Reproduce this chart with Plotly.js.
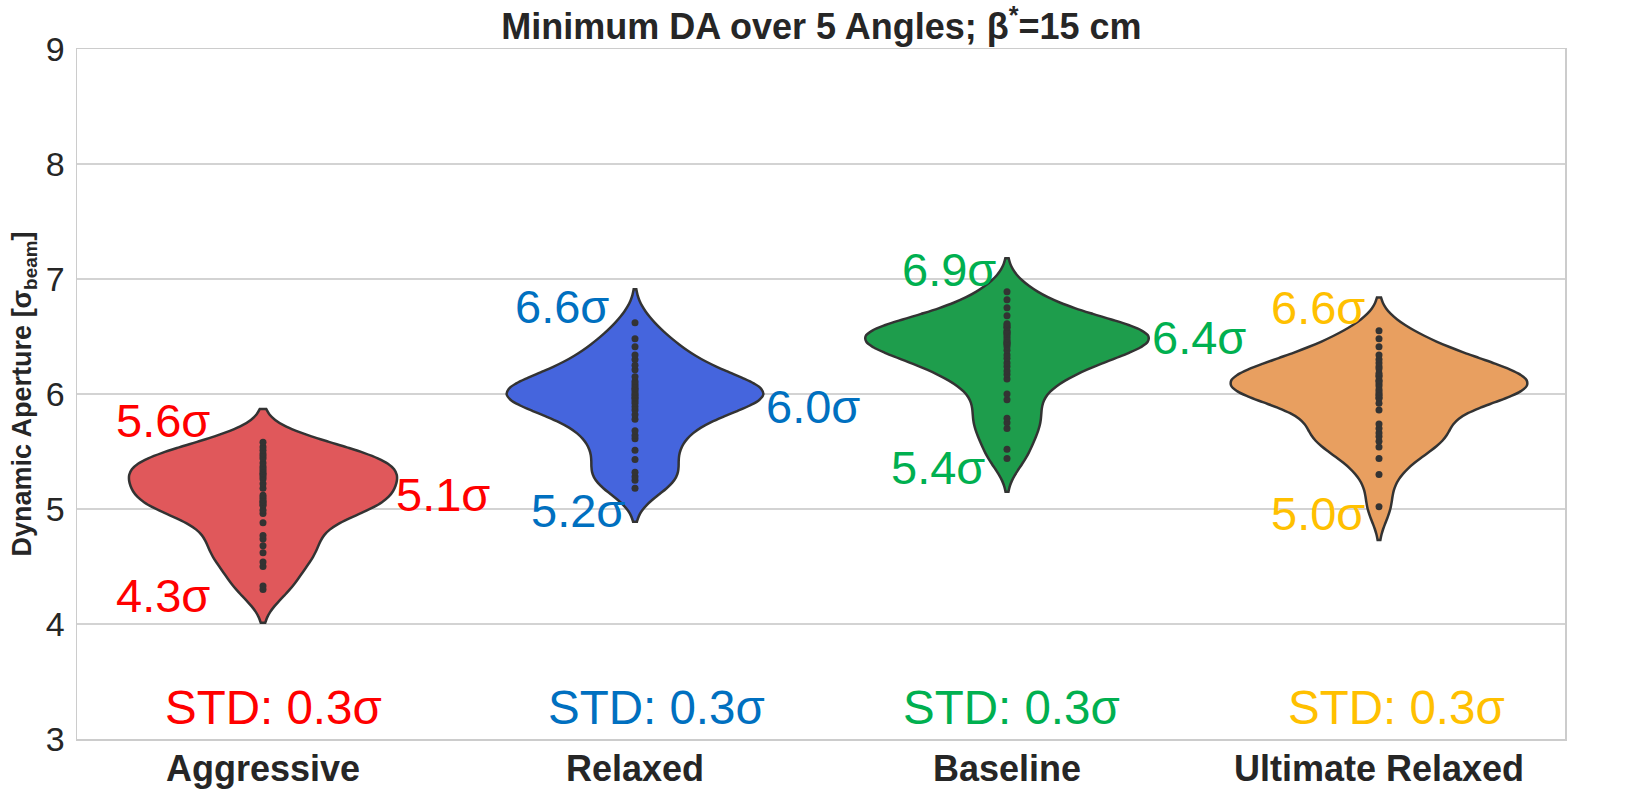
<!DOCTYPE html>
<html>
<head>
<meta charset="utf-8">
<script src="https://cdn.plot.ly/plotly-3.0.1.min.js"></script>
<style>html,body{margin:0;padding:0;background:#fff;}#chart{width:1643px;height:792px;}</style>
</head>
<body>
<div id="chart"></div>
<script>
// ---- data ----
const categories = ['Aggressive', 'Relaxed', 'Baseline', 'Ultimate Relaxed'];

const aggressive = [5.58, 5.54, 5.51, 5.48, 5.46, 5.44, 5.40, 5.37, 5.35, 5.33, 5.31, 5.30, 5.28, 5.26, 5.22,
                    5.18, 5.12, 5.10, 5.08, 5.06, 5.06, 5.04, 5.03, 4.99, 4.96, 4.88, 4.77, 4.74, 4.68, 4.62,
                    4.54, 4.50, 4.33, 4.30];
const relaxed = [6.62, 6.48, 6.41, 6.34, 6.30, 6.25, 6.21, 6.15, 6.11, 6.09, 6.07, 6.05, 6.04, 6.02, 6.00,
                 5.99, 5.97, 5.96, 5.94, 5.92, 5.89, 5.86, 5.82, 5.78, 5.68, 5.64, 5.61, 5.51, 5.43, 5.32,
                 5.28, 5.25, 5.18];
const baseline = [6.89, 6.82, 6.75, 6.68, 6.61, 6.60, 6.58, 6.58, 6.55, 6.54, 6.53, 6.52, 6.50, 6.48, 6.46,
                  6.45, 6.44, 6.43, 6.41, 6.38, 6.34, 6.31, 6.27, 6.24, 6.20, 6.17, 6.13, 6.00, 5.95, 5.79,
                  5.75, 5.70, 5.52, 5.44];
const ultimateRelaxed = [6.55, 6.48, 6.41, 6.34, 6.30, 6.27, 6.24, 6.22, 6.18, 6.16, 6.15, 6.12, 6.11, 6.09,
                         6.07, 6.04, 6.02, 6.00, 5.99, 5.97, 5.96, 5.92, 5.86, 5.74, 5.70, 5.66, 5.63, 5.59,
                         5.54, 5.44, 5.30, 5.02];

const maxLabels = [5.6, 6.6, 6.9, 6.6];
const medianLabels = [5.1, 6.0, 6.4, 6.0];
const minLabels = [4.3, 5.2, 5.4, 5.0];
const stdLabels = [0.3, 0.3, 0.3, 0.3];

const yTicks = [3, 4, 5, 6, 7, 8, 9];

// ---- styles ----
const series = [aggressive, relaxed, baseline, ultimateRelaxed];
const fills = ['#E0585B', '#4565DD', '#1E9D4C', '#E89F60'];
const textColors = ['#FF0000', '#0070C0', '#00B050', '#FFC000'];
const widths = [0.72, 0.69, 0.76, 0.795];

const FONT = '"Liberation Sans", Arial, Helvetica, sans-serif';

const traces = series.map((vals, i) => ({
  type: 'violin',
  x: vals.map(() => categories[i]),
  y: vals,
  name: categories[i],
  scalegroup: 'g' + i,
  scalemode: 'width',
  width: widths[i],
  bandwidth: 0.145,
  spanmode: 'soft',
  fillcolor: fills[i],
  opacity: 1,
  line: {color: '#333333', width: 2.5},
  points: 'all',
  pointpos: 0,
  jitter: 0,
  marker: {color: '#333333', size: 7, line: {width: 0}},
  box: {visible: false},
  meanline: {visible: false},
  showlegend: false,
  hoverinfo: 'skip'
}));

// label placement (x in category units, y in data units)
const pos = {
  max:    [[-0.269, 5.77], [0.805, 6.765], [1.844, 7.08], [2.836, 6.75]],
  median: [[0.483, 5.124], [1.478, 5.89], [2.516, 6.49], [3.540, 6.10]],
  min:    [[-0.269, 4.252], [0.847, 4.99], [1.815, 5.357], [2.836, 4.965]],
  std:    [[0.027, 3.27], [1.058, 3.27], [2.013, 3.27], [3.048, 3.27]]
};

const annotations = [];
const addAnn = (p, text, color, size) => annotations.push({
  x: p[0], y: p[1], xref: 'x', yref: 'y', text: text, showarrow: false,
  xanchor: 'center', yanchor: 'middle',
  font: {family: FONT, size: size, color: color}
});
for (let i = 0; i < categories.length; i++) {
  addAnn(pos.max[i], maxLabels[i].toFixed(1) + 'σ', textColors[i], 47);
  addAnn(pos.median[i], medianLabels[i].toFixed(1) + 'σ', textColors[i], 47);
  addAnn(pos.min[i], minLabels[i].toFixed(1) + 'σ', textColors[i], 47);
  addAnn(pos.std[i], 'STD: ' + stdLabels[i].toFixed(1) + 'σ', textColors[i], 47.5);
}

const layout = {
  width: 1643, height: 792,
  margin: {l: 77, r: 78, t: 49, b: 53, pad: 0},
  paper_bgcolor: '#ffffff', plot_bgcolor: '#ffffff',
  violinmode: 'overlay', violingap: 0,
  title: {
    text: '<b>Minimum DA over 5 Angles; β<sup>*</sup>=15 cm</b>',
    font: {family: FONT, size: 36, color: '#262626'},
    x: 0.5, xanchor: 'center', y: 0.967, yanchor: 'middle'
  },
  xaxis: {
    type: 'category', categoryorder: 'array', categoryarray: categories,
    range: [-0.5, 3.5],
    showgrid: false, zeroline: false,
    showline: true, mirror: true, linecolor: '#cccccc', linewidth: 1.5,
    ticks: '', tickfont: {family: FONT, size: 36, color: '#262626', weight: 'bold'},
    ticklabelstandoff: -3
  },
  yaxis: {
    range: [3, 9], tickvals: yTicks, ticktext: yTicks.map(String),
    showgrid: true, gridcolor: '#d3d3d3', gridwidth: 1.3, zeroline: false,
    showline: true, mirror: true, linecolor: '#cccccc', linewidth: 1.5,
    ticks: '', tickfont: {family: FONT, size: 34, color: '#262626'},
    ticklabelstandoff: 4,
    title: {text: '<b>Dynamic Aperture [σ<sub>beam</sub>]</b>', font: {family: FONT, size: 27, color: '#262626'}, standoff: 6}
  },
  annotations: annotations
};

Plotly.newPlot('chart', traces, layout, {displayModeBar: false, staticPlot: true});
</script>
</body>
</html>
